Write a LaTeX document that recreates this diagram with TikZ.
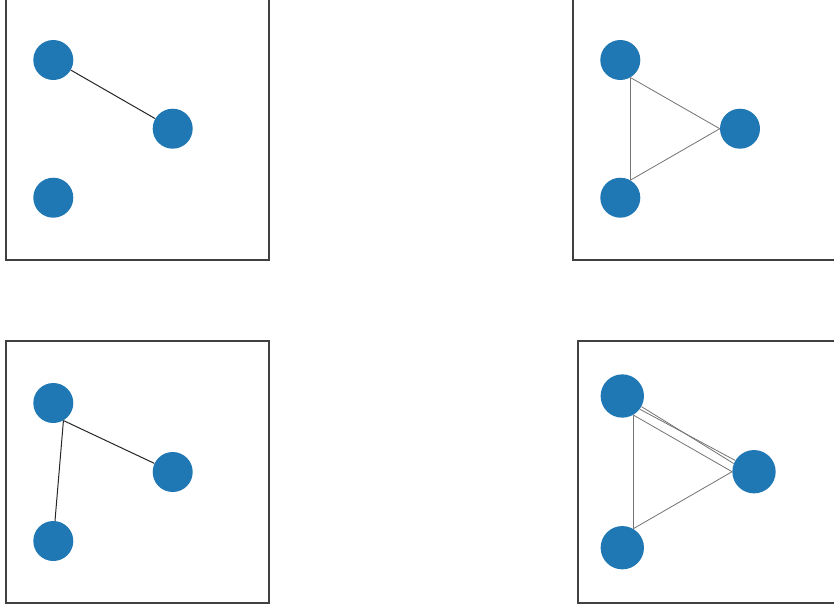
\documentclass[tikz,border=0pt]{standalone}
\definecolor{nodeblue}{HTML}{1F77B4}
\begin{document}
\begin{tikzpicture}[x=0.75pt,y=-0.75pt,
  vtx/.style={circle,fill=nodeblue,draw=none,minimum size=30pt,inner sep=0pt},
  bigvtx/.style={vtx,minimum size=32.5pt},
  frame/.style={draw=black!75,line width=0.8pt},
  darkedge/.style={draw=black!85,line width=0.75pt},
  grayedge/.style={draw=black!55,line width=0.6pt}]
\useasboundingbox (0,0) rectangle (834,611);
\clip (0,0) rectangle (834,611);
% frames
\draw[frame] (6,-10) rectangle (269,260);
\draw[frame] (573,-10) rectangle (850,260);
\draw[frame] (6,341) rectangle (269,603);
\draw[frame] (578,341) rectangle (850,603);
% top-left
\node[vtx] (A1) at (53.3,60) {};
\node[vtx] (B1) at (172.7,128.7) {};
\node[vtx] (C1) at (53.3,197.7) {};
\draw[darkedge] (A1) -- (B1);
% top-right
\node[vtx] (A2) at (620.3,60) {};
\node[vtx] (B2) at (740,128.7) {};
\node[vtx] (C2) at (620.3,197.7) {};
\draw[grayedge] (A2.-60) -- (B2.west);
\draw[grayedge] (A2.-60) -- (C2.60);
\draw[grayedge] (C2.60) -- (B2.west);
% bottom-left
\node[vtx] (A3) at (53.3,403) {};
\node[vtx] (B3) at (172.7,472) {};
\node[vtx] (C3) at (53.3,541) {};
\draw[darkedge] (A3.-60) -- (B3);
\draw[darkedge] (A3.-60) -- (C3);
% bottom-right
\node[bigvtx] (A4) at (622.3,396) {};
\node[bigvtx] (B4) at (754,471.7) {};
\node[bigvtx] (C4) at (622.3,547.7) {};
\draw[grayedge] (A4.-60) -- (C4.60);
\draw[grayedge] (C4.60) -- (B4.west);
\draw[grayedge] (A4.-60) -- (B4.west);
\draw[grayedge] (A4.-29) -- (B4.158);
\draw[grayedge] (A4.-37) -- (B4.149);
\end{tikzpicture}
\end{document}
